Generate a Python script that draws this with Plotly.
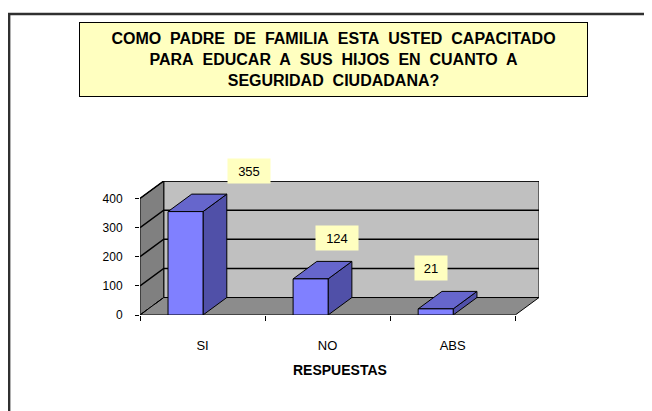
import plotly.graph_objects as go

categories = ["SI", "NO", "ABS"]
values = [355, 124, 21]
y_ticks = [0, 100, 200, 300, 400]
title_lines = ["COMO PADRE DE FAMILIA ESTA USTED CAPACITADO",
               "PARA EDUCAR A SUS HIJOS EN CUANTO A",
               "SEGURIDAD CIUDADANA?"]
x_title = "RESPUESTAS"

# pseudo 3d depth, in axis units
DX, DY = 0.19, 60
BAR_OFF, BAR_W = -0.276, 0.28
label_xshift = [46, 9, -22]

FONT = "Arial, Liberation Sans, sans-serif"
x_lo, x_hi = -0.5, len(categories) - 0.5
y_top = max(y_ticks)

fig = go.Figure()


def poly(xs, ys, fill, width=1, dash=None):
    fig.add_trace(go.Scatter(
        x=xs + [xs[0]], y=ys + [ys[0]], mode="lines", fill="toself",
        fillcolor=fill, line=dict(color="black", width=width, dash=dash),
        hoverinfo="skip", showlegend=False))


# walls and floor
poly([x_lo + DX, x_hi + DX, x_hi + DX, x_lo + DX], [DY, DY, y_top + DY, y_top + DY], "#C0C0C0")
poly([x_lo, x_lo + DX, x_lo + DX, x_lo], [0, DY, y_top + DY, y_top], "#808080")
poly([x_lo, x_hi, x_hi + DX, x_lo + DX], [0, 0, DY, DY], "#8C8C8C")

# gridlines across left and back wall
gx, gy = [], []
for v in y_ticks[1:]:
    gx += [x_lo, x_lo + DX, x_hi + DX, None]
    gy += [v, v + DY, v + DY, None]
fig.add_trace(go.Scatter(x=gx, y=gy, mode="lines", line=dict(color="black", width=1.5),
                         hoverinfo="skip", showlegend=False))
fig.add_trace(go.Scatter(x=[x_lo, x_lo + DX], y=[0, DY], mode="lines",
                         line=dict(color="black", width=1, dash="dash"),
                         hoverinfo="skip", showlegend=False))

# bars
for i, v in enumerate(values):
    x0 = i + BAR_OFF
    x1 = x0 + BAR_W
    poly([x1, x1 + DX, x1 + DX, x1], [0, DY, v + DY, v], "#5050A8")
    poly([x0, x1, x1 + DX, x0 + DX], [v, v, v + DY, v + DY], "#6666CC")
    poly([x0, x1, x1, x0], [0, 0, v, v], "#8080FF")
    fig.add_annotation(x=i, y=v, text=str(v), showarrow=False, xshift=label_xshift[i], yshift=41,
                       bgcolor="#FFFFC0", width=10 * len(str(v)) + 10, height=22,
                       font=dict(family=FONT, size=13, color="black"))

# wide word gaps like the original
title_html = "<br>".join("<b>" + t.replace(" ", "&nbsp; ") + "</b>" for t in title_lines)
fig.add_annotation(xref="paper", yref="paper", x=0.485, y=1.907, text=title_html,
                   showarrow=False, xanchor="center", yanchor="middle", width=505, height=71,
                   bgcolor="#FFFFC0", bordercolor="black", borderwidth=1,
                   font=dict(family=FONT, size=16, color="black"))
fig.add_annotation(xref="paper", yref="paper", x=0.501, y=-0.485, text=f"<b>{x_title}</b>",
                   showarrow=False, font=dict(family=FONT, size=14, color="black"))

# chart area border (top and left visible)
fig.add_shape(type="rect", xref="paper", yref="paper", x0=-0.328, x1=1.6, y0=-1.2, y1=2.246,
              line=dict(color="#303030", width=2.5), layer="below")

# page body has an 8px margin, so the figure is shrunk to fit the window
fig.update_layout(
    width=644, height=403, margin=dict(l=132, r=113, t=173, b=96),
    paper_bgcolor="white", plot_bgcolor="white", showlegend=False,
    font=dict(family=FONT, size=12, color="black"),
    xaxis=dict(range=[x_lo, x_hi + DX], tickvals=list(range(len(categories))), ticktext=categories,
               ticks="", showgrid=False, zeroline=False, showline=False, ticklabelstandoff=21,
               tickfont=dict(size=13),
               minor=dict(tickmode="array", tickvals=[k - 0.5 for k in range(len(categories) + 1)],
                          ticks="outside", ticklen=5, tickcolor="black", showgrid=False)),
    yaxis=dict(range=[0, y_top + DY], tickvals=y_ticks, ticks="outside", ticklen=4, tickcolor="black",
               showgrid=False, zeroline=False, showline=False, ticklabelstandoff=10,
               tickfont=dict(size=12)),
)

fig.write_html("out.html")
